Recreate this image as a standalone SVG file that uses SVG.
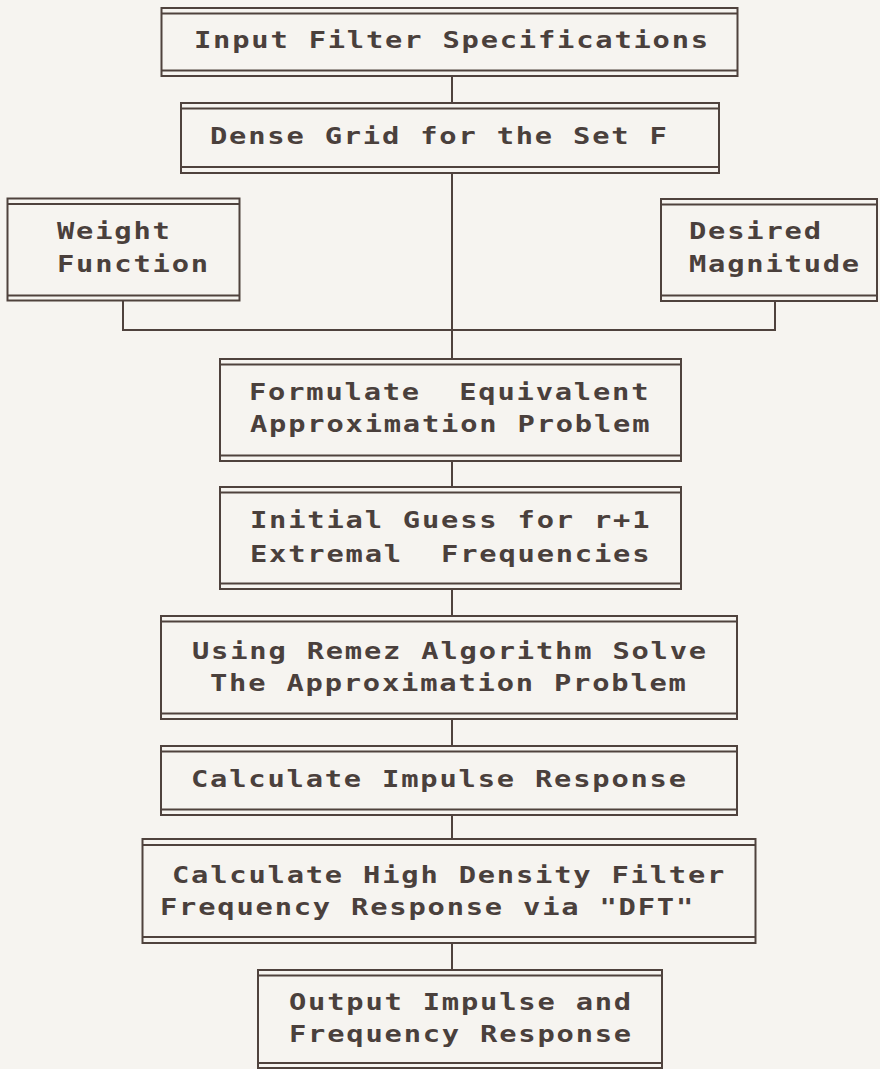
<svg xmlns="http://www.w3.org/2000/svg" width="880" height="1069" viewBox="0 0 880 1069">
<style>
.bg{fill:#f6f4f0}
.box rect{fill:none;stroke:#4f423d;stroke-width:2}
.box line{stroke:#4f423d;stroke-width:2}
.t{font-family:"DejaVu Sans Mono","Liberation Mono",monospace;font-weight:bold;font-size:23px;letter-spacing:1.45px;fill:#4a403c;white-space:pre}
#connectors path{fill:none;stroke:#4f423d;stroke-width:2}
</style>
<rect class="bg" x="0" y="0" width="880" height="1069"/>
<g id="connectors">
<path d="M452 76V102"/>
<path d="M452 173V359"/>
<path d="M123 301V330H775V301"/>
<path d="M452 461V487"/>
<path d="M452 589V616"/>
<path d="M452 719V746"/>
<path d="M452 815V839"/>
<path d="M452 943V970"/>
</g>
<g id="n1" class="box">
<rect x="161.5" y="8" width="576" height="68"/>
<line x1="161.5" y1="13.5" x2="737.5" y2="13.5"/><line x1="161.5" y1="70.5" x2="737.5" y2="70.5"/>
<text class="t" transform="translate(194 48) scale(1.25 1)" xml:space="preserve">Input Filter Specifications</text>
</g>
<g id="n2" class="box">
<rect x="181" y="103" width="538" height="70"/>
<line x1="181" y1="108.5" x2="719" y2="108.5"/><line x1="181" y1="167" x2="719" y2="167"/>
<text class="t" transform="translate(210 144) scale(1.25 1)" xml:space="preserve">Dense Grid for the Set F</text>
</g>
<g id="n3" class="box">
<rect x="7.5" y="198.5" width="232" height="102"/>
<line x1="7.5" y1="204" x2="239.5" y2="204"/><line x1="7.5" y1="295.5" x2="239.5" y2="295.5"/>
<text class="t" transform="translate(57 239) scale(1.25 1)" xml:space="preserve">Weight</text>
<text class="t" transform="translate(57 272) scale(1.25 1)" xml:space="preserve">Function</text>
</g>
<g id="n4" class="box">
<rect x="661" y="199" width="216" height="102"/>
<line x1="661" y1="204.5" x2="877" y2="204.5"/><line x1="661" y1="295.5" x2="877" y2="295.5"/>
<text class="t" transform="translate(689 239) scale(1.25 1)" xml:space="preserve">Desired</text>
<text class="t" transform="translate(689 272) scale(1.25 1)" xml:space="preserve">Magnitude</text>
</g>
<g id="n5" class="box">
<rect x="220" y="359" width="461" height="102"/>
<line x1="220" y1="364.5" x2="681" y2="364.5"/><line x1="220" y1="455.5" x2="681" y2="455.5"/>
<text class="t" transform="translate(249 400) scale(1.25 1)" xml:space="preserve">Formulate  Equivalent</text>
<text class="t" transform="translate(250 432) scale(1.25 1)" xml:space="preserve">Approximation Problem</text>
</g>
<g id="n6" class="box">
<rect x="220" y="487" width="461" height="102"/>
<line x1="220" y1="492.5" x2="681" y2="492.5"/><line x1="220" y1="583.5" x2="681" y2="583.5"/>
<text class="t" transform="translate(250 528) scale(1.25 1)" xml:space="preserve">Initial Guess for r+1</text>
<text class="t" transform="translate(250 562) scale(1.25 1)" xml:space="preserve">Extremal  Frequencies</text>
</g>
<g id="n7" class="box">
<rect x="161" y="616" width="576" height="103"/>
<line x1="161" y1="621.5" x2="737" y2="621.5"/><line x1="161" y1="713.5" x2="737" y2="713.5"/>
<text class="t" transform="translate(192 659) scale(1.25 1)" xml:space="preserve">Using Remez Algorithm Solve</text>
<text class="t" transform="translate(210 691) scale(1.25 1)" xml:space="preserve">The Approximation Problem</text>
</g>
<g id="n8" class="box">
<rect x="161" y="746" width="576" height="69"/>
<line x1="161" y1="751.5" x2="737" y2="751.5"/><line x1="161" y1="809.5" x2="737" y2="809.5"/>
<text class="t" transform="translate(191 787) scale(1.25 1)" xml:space="preserve">Calculate Impulse Response</text>
</g>
<g id="n9" class="box">
<rect x="142.5" y="839" width="613" height="104"/>
<line x1="142.5" y1="845" x2="755.5" y2="845"/><line x1="142.5" y1="937" x2="755.5" y2="937"/>
<text class="t" transform="translate(172 883) scale(1.25 1)" xml:space="preserve">Calculate High Density Filter</text>
<text class="t" transform="translate(160 915) scale(1.25 1)" xml:space="preserve">Frequency Response via "DFT"</text>
</g>
<g id="n10" class="box">
<rect x="258" y="970" width="404" height="98"/>
<line x1="258" y1="975.5" x2="662" y2="975.5"/><line x1="258" y1="1063" x2="662" y2="1063"/>
<text class="t" transform="translate(289 1010) scale(1.25 1)" xml:space="preserve">Output Impulse and</text>
<text class="t" transform="translate(289 1042) scale(1.25 1)" xml:space="preserve">Frequency Response</text>
</g>
</svg>
